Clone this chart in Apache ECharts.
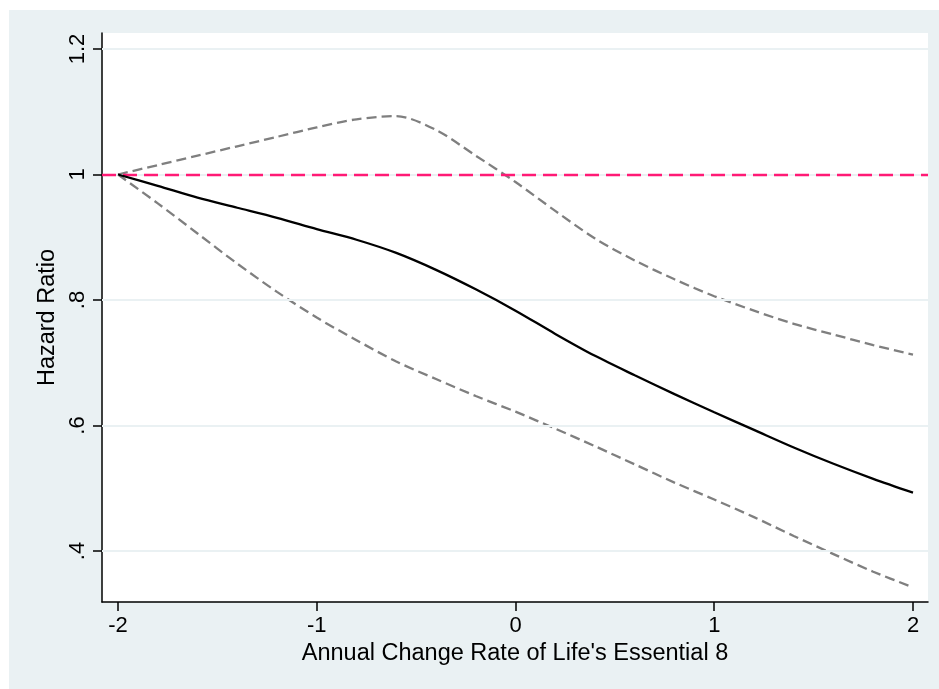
<!DOCTYPE html>
<html>
<head>
<meta charset="utf-8">
<script src="https://cdn.jsdelivr.net/npm/echarts@6/dist/echarts.min.js"></script>
<style>html,body{margin:0;padding:0;background:#fff;}#c{width:939px;height:689px;}</style>
</head>
<body>
<div id="c"></div>
<script>
var xValues = [-2, -1.8, -1.6, -1.4, -1.2, -1, -0.8, -0.6, -0.4, -0.2, 0, 0.2, 0.4, 0.6, 0.8, 1, 1.2, 1.4, 1.6, 1.8, 2];
var hrMain  = [1.000, 0.982, 0.963, 0.947, 0.931, 0.913, 0.896, 0.875, 0.848, 0.817, 0.783, 0.746, 0.711, 0.680, 0.650, 0.621, 0.593, 0.565, 0.539, 0.515, 0.493];
var hrUpper = [1.000, 1.015, 1.030, 1.045, 1.060, 1.075, 1.088, 1.093, 1.071, 1.030, 0.988, 0.942, 0.898, 0.863, 0.833, 0.806, 0.783, 0.762, 0.745, 0.728, 0.713];
var hrLower = [1.000, 0.954, 0.906, 0.858, 0.813, 0.772, 0.736, 0.702, 0.674, 0.647, 0.622, 0.595, 0.567, 0.538, 0.509, 0.482, 0.454, 0.424, 0.395, 0.367, 0.342];
var refValue = 1;
var yTicks = [0.4, 0.6, 0.8, 1, 1.2];
var yTickLabels = ['.4', '.6', '.8', '1', '1.2'];
var xTicks = [-2, -1, 0, 1, 2];
var xTickLabels = ['-2', '-1', '0', '1', '2'];
var xTitle = "Annual Change Rate of Life's Essential 8";
var yTitle = 'Hazard Ratio';

function pairs(ys) { return xValues.map(function (x, i) { return [x, ys[i]]; }); }
var font = 'Liberation Sans, Arial, Helvetica, sans-serif';
var chart = echarts.init(document.getElementById('c'));
chart.setOption({
  animation: false,
  backgroundColor: '#ffffff',
  graphic: [{ type: 'rect', z: -10, shape: { x: 9, y: 10, width: 930, height: 679 }, style: { fill: '#eaf1f3' } }],
  grid: { left: 102, top: 33, right: 11, bottom: 87, show: true, backgroundColor: '#ffffff', borderWidth: 0 },
  xAxis: {
    type: 'value', min: -2.0805, max: 2.0755,
    name: xTitle, nameLocation: 'middle', nameGap: 40,
    nameTextStyle: { fontFamily: font, fontSize: 23.5, color: '#000' },
    axisLine: { show: true, onZero: false, lineStyle: { color: '#000', width: 1.5 } },
    axisTick: { show: true, length: 9, customValues: xTicks, lineStyle: { color: '#000', width: 1.5 } },
    axisLabel: { customValues: xTicks, fontFamily: font, fontSize: 22, color: '#000', margin: 13,
      formatter: function (v) { var i = xTicks.indexOf(Math.round(v * 1000) / 1000); return i >= 0 ? xTickLabels[i] : ''; } },
    splitLine: { show: false }
  },
  yAxis: {
    type: 'value', min: 0.3187, max: 1.2255,
    name: yTitle, nameLocation: 'middle', nameGap: 40, nameRotate: 90,
    nameTextStyle: { fontFamily: font, fontSize: 23.5, color: '#000' },
    axisLine: { show: true, onZero: false, lineStyle: { color: '#000', width: 1.5 } },
    axisTick: { show: true, length: 9, customValues: yTicks, lineStyle: { color: '#000', width: 1.5 } },
    axisLabel: { customValues: yTicks, rotate: 90, fontFamily: font, fontSize: 22, color: '#000', margin: 13,
      formatter: function (v) { var i = yTicks.indexOf(Math.round(v * 1000) / 1000); return i >= 0 ? yTickLabels[i] : ''; } },
    splitLine: { show: false }
  },
  series: [
    {
      type: 'line', data: [], silent: true,
      markLine: { silent: true, symbol: 'none', label: { show: false },
        lineStyle: { color: '#eaf1f3', width: 2, type: 'solid' },
        data: yTicks.map(function (v) { return { yAxis: v }; }) }
    },
    {
      type: 'line', data: [], silent: true, z: 5,
      markLine: { silent: true, symbol: 'none', label: { show: false },
        lineStyle: { color: '#ff1a75', width: 2.4, type: [14, 7] },
        data: [{ yAxis: refValue }] }
    },
    { type: 'line', data: pairs(hrUpper), smooth: 0.3, symbol: 'none', z: 4,
      lineStyle: { color: '#7f7f7f', width: 2.3, type: [10, 5] } },
    { type: 'line', data: pairs(hrLower), smooth: 0.3, symbol: 'none', z: 4,
      lineStyle: { color: '#7f7f7f', width: 2.3, type: [10, 5] } },
    { type: 'line', data: pairs(hrMain), smooth: 0.3, symbol: 'none', z: 6,
      lineStyle: { color: '#000000', width: 2.3 } }
  ]
});
</script>
</body>
</html>
